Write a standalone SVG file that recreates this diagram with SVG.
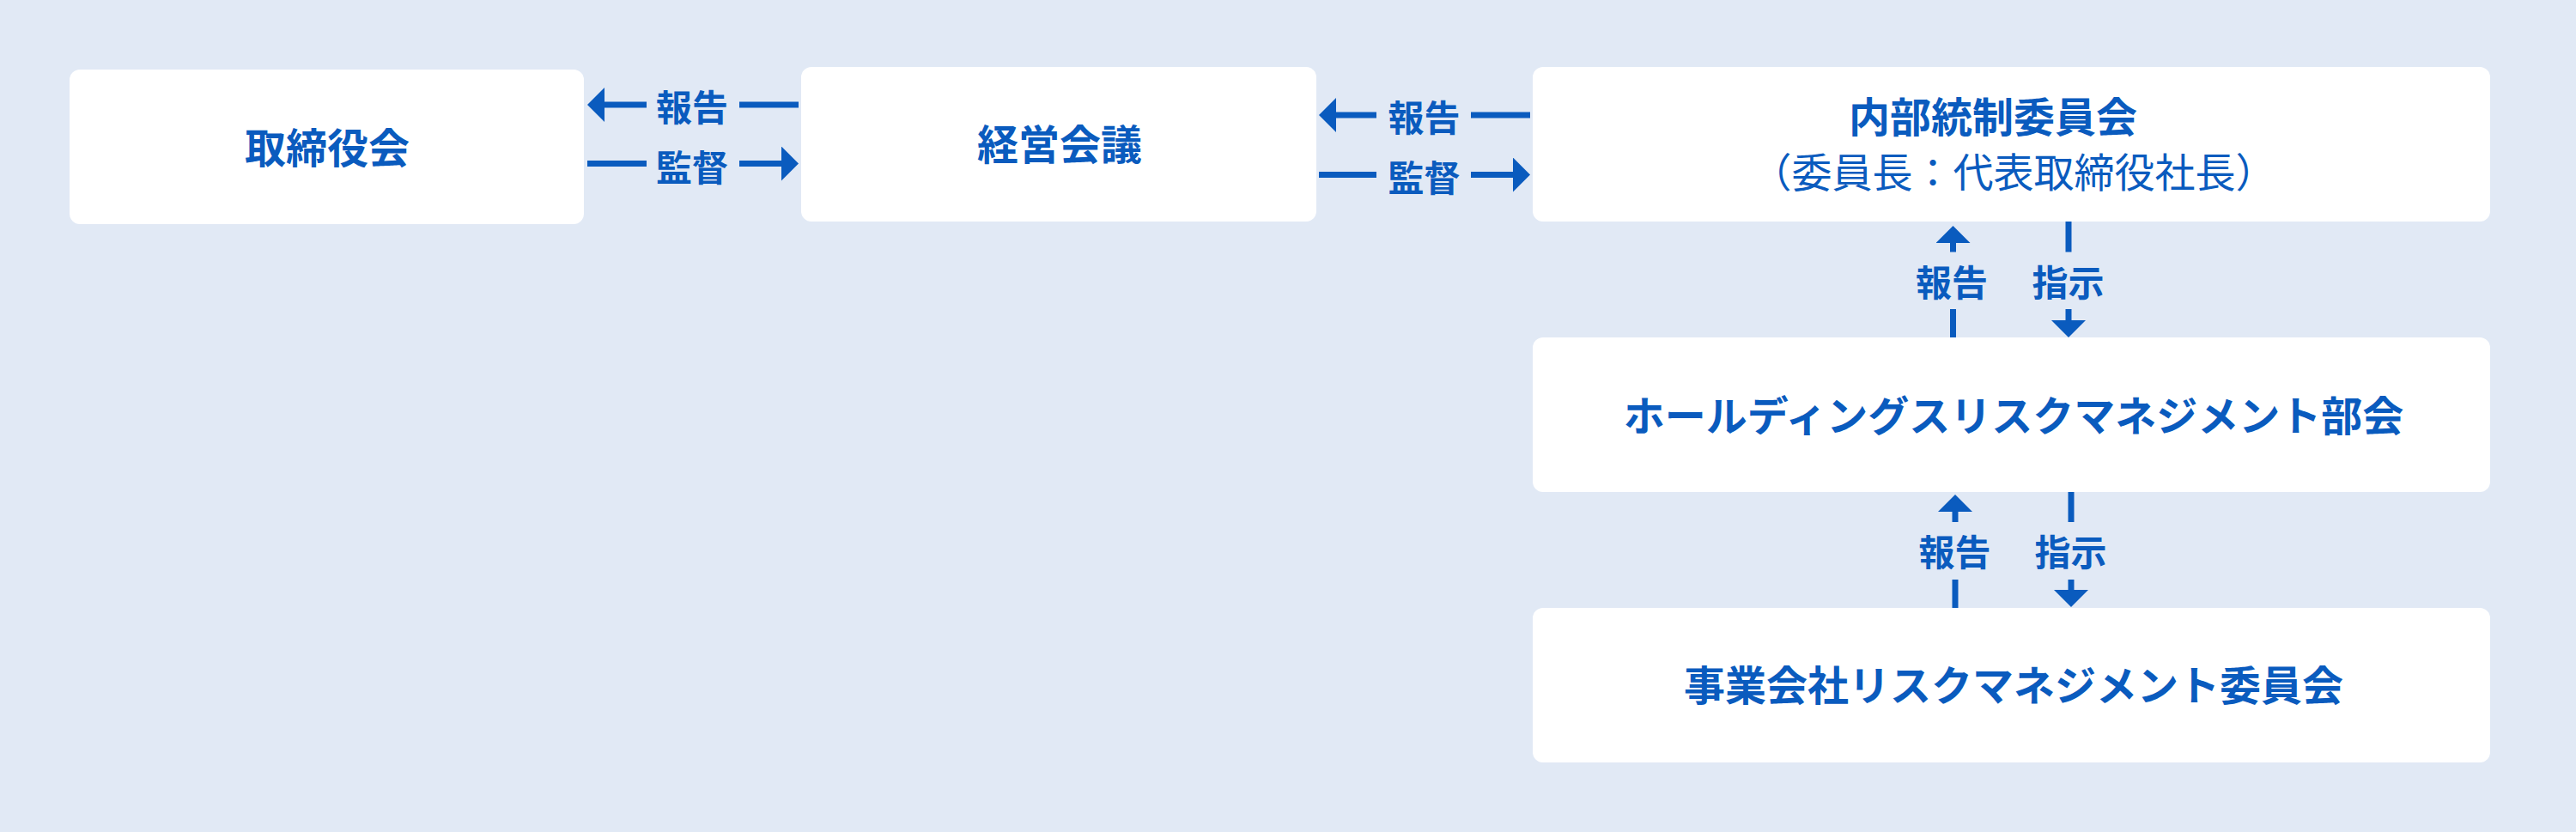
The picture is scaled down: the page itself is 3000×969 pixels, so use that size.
<svg xmlns="http://www.w3.org/2000/svg" width="3000" height="969" viewBox="0 0 3000 969">
  <style>
    .bg { fill: #E1E9F5; }
    .box { fill: #FFFFFF; }
    .t { font-family: "Noto Sans CJK JP", "Noto Sans", sans-serif; fill: #0A5BBE; text-anchor: middle; }
    .title { font-size: 48px; font-weight: 700; }
    .sub { font-size: 47px; font-weight: 400; }
    .lbl { font-size: 42px; font-weight: 700; }
    .ln { stroke: #0A5BBE; stroke-width: 7; fill: none; }
  </style>
  <defs>
    <marker id="ah" markerUnits="userSpaceOnUse" markerWidth="20" markerHeight="40" viewBox="0 0 20 40" refX="0" refY="20" orient="auto">
      <path d="M0,0 L20,20 L0,40 Z" fill="#0A5BBE"/>
    </marker>
  </defs>
  <rect class="bg" x="0" y="0" width="3000" height="969"/>

  <g id="node-torishimariyakukai">
    <rect class="box" x="81" y="81" width="599" height="180" rx="12"/>
    <text class="t title" x="381" y="189.5">取締役会</text>
  </g>
  <g id="node-keiei-kaigi">
    <rect class="box" x="933" y="78" width="600" height="180" rx="12"/>
    <text class="t title" x="1234" y="185.5">経営会議</text>
  </g>
  <g id="node-naibu-tousei">
    <rect class="box" x="1785" y="78" width="1115" height="180" rx="12"/>
    <text class="t title" x="2321" y="153.5">内部統制委員会</text>
    <text class="t sub" x="2345" y="217.5">（委員長：代表取締役社長）</text>
  </g>
  <g id="node-holdings-rm">
    <rect class="box" x="1785" y="393" width="1115" height="180" rx="12"/>
    <text class="t title" x="2345" y="502">ホールディングスリスクマネジメント部会</text>
  </g>
  <g id="node-jigyo-rm">
    <rect class="box" x="1785" y="708" width="1115" height="180" rx="12"/>
    <text class="t title" x="2345" y="816">事業会社リスクマネジメント委員会</text>
  </g>

  <g id="connectors">
    <!-- 経営会議 -> 取締役会 : 報告 -->
    <line class="ln" x1="930" y1="122" x2="861" y2="122"/>
    <line class="ln" x1="753" y1="122" x2="704" y2="122" marker-end="url(#ah)"/>
    <text class="t lbl" x="806" y="141">報告</text>
    <!-- 取締役会 -> 経営会議 : 監督 -->
    <line class="ln" x1="684" y1="190.5" x2="753" y2="190.5"/>
    <line class="ln" x1="861" y1="190.5" x2="910" y2="190.5" marker-end="url(#ah)"/>
    <text class="t lbl" x="806" y="211">監督</text>

    <!-- 内部統制委員会 -> 経営会議 : 報告 -->
    <line class="ln" x1="1782" y1="134" x2="1713" y2="134"/>
    <line class="ln" x1="1603" y1="134" x2="1556" y2="134" marker-end="url(#ah)"/>
    <text class="t lbl" x="1658.5" y="153">報告</text>
    <!-- 経営会議 -> 内部統制委員会 : 監督 -->
    <line class="ln" x1="1536" y1="203.5" x2="1603" y2="203.5"/>
    <line class="ln" x1="1713" y1="203.5" x2="1762" y2="203.5" marker-end="url(#ah)"/>
    <text class="t lbl" x="1658.5" y="223">監督</text>

    <!-- 部会 -> 内部統制委員会 : 報告 -->
    <line class="ln" x1="2274.5" y1="393" x2="2274.5" y2="360"/>
    <line class="ln" x1="2274.5" y1="293.5" x2="2274.5" y2="283" marker-end="url(#ah)"/>
    <text class="t lbl" x="2273" y="345">報告</text>
    <!-- 内部統制委員会 -> 部会 : 指示 -->
    <line class="ln" x1="2409" y1="258" x2="2409" y2="293.5"/>
    <line class="ln" x1="2409" y1="360" x2="2409" y2="373" marker-end="url(#ah)"/>
    <text class="t lbl" x="2408.5" y="345">指示</text>

    <!-- 事業会社 -> 部会 : 報告 -->
    <line class="ln" x1="2277" y1="708" x2="2277" y2="675"/>
    <line class="ln" x1="2277" y1="608" x2="2277" y2="596" marker-end="url(#ah)"/>
    <text class="t lbl" x="2276.5" y="658.5">報告</text>
    <!-- 部会 -> 事業会社 : 指示 -->
    <line class="ln" x1="2412" y1="573" x2="2412" y2="608"/>
    <line class="ln" x1="2412" y1="675" x2="2412" y2="687" marker-end="url(#ah)"/>
    <text class="t lbl" x="2411.5" y="658.5">指示</text>
  </g>
</svg>
